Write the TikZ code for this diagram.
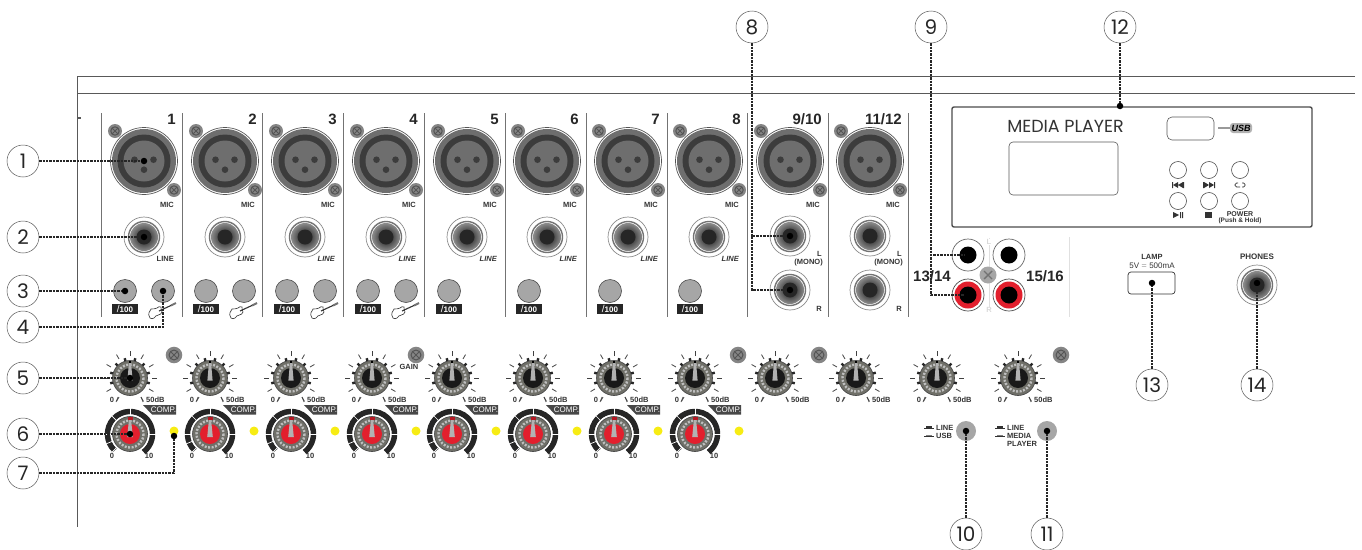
\documentclass[tikz,border=0pt]{standalone}
\usepackage{fontspec}
\setmainfont{Liberation Sans}
\newfontfamily\calloutfont{Poppins}
\usepackage{tikz}
\definecolor{panelgray}{HTML}{555555}
\definecolor{xlrgray}{HTML}{6E6E6E}
\definecolor{xlrdark}{HTML}{3C3C3C}
\definecolor{btngray}{HTML}{A6A6A6}
\definecolor{knobgray}{HTML}{6F6F68}
\definecolor{ledyellow}{HTML}{F7EC13}
\definecolor{rcared}{HTML}{E21F2D}
\tikzset{
  callout/.style={circle,draw=black!65,line width=0.5pt,fill=white,minimum size=32pt,inner sep=0pt,font=\calloutfont\fontsize{20}{20}\selectfont,text=black!85},
  tip/.style={circle,fill=black,minimum size=6.5pt,inner sep=0pt},
  leader/.style={line width=1.2pt,dash pattern=on 2.4pt off 1pt,black!85},
  lab/.style={font=\bfseries\fontsize{7.5}{7.5}\selectfont,inner sep=0pt,text=black!80},
  chnum/.style={font=\bfseries\fontsize{15}{15}\selectfont,inner sep=0pt,text=black!85},
  sep/.style={line width=0.9pt,black!55},
  screw/.pic={
    \fill[btngray!80!black] (0,0) circle (7);
    \draw[panelgray,line width=1pt] (0,0) circle (4.2);
    \draw[panelgray,line width=0.8pt] (-3,-3) -- (3,3) (-3,3) -- (3,-3);
  },
  xlr/.pic={
    \fill[white] (0,0) circle (33.5);
    \draw[panelgray,line width=0.7pt] (0,0) circle (33.5);
    \fill[xlrgray] (0,0) circle (32);
    \fill[xlrdark] (0,0) circle (26.5);
    \fill[xlrgray] (0,0) circle (20.5);
    \fill[xlrdark] (-9.5,-1.3) circle (3.3) (9.5,-1.3) circle (3.3) (0,8.7) circle (3.3);
    \pic at (-29,-30) {screw};
    \pic at (30,29) {screw};
  },
  jack/.pic={
    \fill[white] (0,0) circle (20);
    \draw[black!45,line width=0.7pt] (0,0) circle (20);
    \draw[black!55,line width=1.4pt] (0,0) circle (15.5);
    \shade[inner color=black!95,outer color=black!45] (0,0) circle (14);
    \fill[black!85] (0,0) circle (7.5);
  },
  knobface/.pic={
    \fill[knobgray] (0,0) circle (17.5);
    \draw[black!25,line width=2.4pt,dash pattern=on 2pt off 1.5pt] (0,0) circle (13.5);
    \draw[black!75,line width=0.6pt] (0,0) circle (17.5);
  },
  gain/.pic={
    \foreach \a in {-240,-210,...,60} {\draw[black!75,line width=0.8pt] (\a:22) -- (\a:27);}
    \foreach \a in {-195,-165,-135,-105,-75,-45,-15,15} {\draw[black!85,line width=2.4pt] (\a:17) -- (\a:20.5);}
    \pic {knobface};
    \fill[black!90] (0,0) circle (10);
    \fill[black!30] (-1.1,-15) -- (1.1,-15) -- (2.6,2.5) -- (-2.6,2.5) -- cycle;
    \fill[black] (-1.3,-17.5) rectangle (1.3,-15);
  },
  comp/.pic={
    \draw[black!85,line width=5.5pt] (133:22.5) arc[start angle=133,end angle=413,radius=22.5];
    \foreach \a in {-90,0,180,-135,157.5,135,112.5} {\draw[white,line width=0.7pt] (\a:19) -- (\a:26);}
    \fill[white] (0,0) circle (19.3);
    \pic {knobface};
    \fill[rcared] (0,0) circle (10);
    \fill[rcared!80!black] (-2.5,-17) rectangle (2.5,-14);
    \fill[black!30] (-1.1,-14) -- (1.1,-14) -- (2.8,3) -- (-2.8,3) -- cycle;
  },
  guitar/.pic={
    \draw[black!80,fill=white,line width=0.6pt] (-13,8) .. controls (-16,3) and (-13,2) .. (-12,-1) .. controls (-10,-2) and (-8,0) .. (-6,-2) .. controls (-5,-4) and (-3,-3) .. (-2,-3) .. controls (-1,-1) and (-3,0) .. (-1,2) .. controls (-2,6) and (-7,4) .. (-9,8) .. controls (-10,9) and (-12,9) .. (-13,8) -- cycle;
    \draw[black!80,line width=1.1pt] (-4,1) -- (9,-5);
    \draw[black!55,line width=2pt] (8,-4.5) -- (13,-7);
  },
  ratiobox/.style={fill=black!85,text=white,minimum width=26pt,minimum height=10.5pt,inner sep=0pt,font=\bfseries\fontsize{8}{8}\selectfont},
  mpbtn/.style={circle,draw=black!70,line width=0.6pt,minimum size=17pt,inner sep=0pt},
  swicon/.pic={
    \fill[black!80] (-5,0.8) rectangle (5,1.8);
    \fill[black!80] (-3,-1) rectangle (3,0.8);
  },
  swiconb/.pic={
    \fill[black!80] (-5,0.8) rectangle (5,1.8);
    \fill[black!50] (-3,0) rectangle (3,0.8);
  },
}
\begin{document}
\begin{tikzpicture}[x=1pt,y=-1pt]
  \useasboundingbox (0,0) rectangle (1362,549);
  % panel frame
  \draw[line width=0.9pt,black!65] (1355,76) -- (77,76) -- (77,527);
  \draw[line width=0.9pt,black!65] (77,93) -- (1355,93);
  \draw[line width=1.2pt,black!65] (77,118) -- (81,118);
  % channel strips
  \foreach \x in {101,182,262,343,424,505,586,667,747,828,908} {\draw[sep] (\x,113) -- (\x,317);}
  \draw[black!12,line width=0.8pt] (1069,237) -- (1069,317);
  \foreach \n/\x/\t in {1/144/1,2/225/2,3/305/3,4/386/4,5/467/5,6/547/6,7/628/7,8/709/8,9/790/9\slash 10,10/870/11\slash 12} {
    \pic at (\x,161) {xlr};
    \node[chnum,anchor=east] at (\x+32,119) {\t};
    \node[lab,anchor=east] at (\x+30,205) {MIC};
  }
  \foreach \x in {144,225,305,386,467,547,628,709} {\pic at (\x,237) {jack};}
  \node[lab,anchor=east] at (174,259) {LINE};
  \foreach \x in {225,305,386,467,547,628,709} {\node[lab,anchor=east,font=\bfseries\itshape\fontsize{7.5}{7.5}\selectfont] at (\x+30,259) {LINE};}
  \foreach \x in {790,870} {
    \pic at (\x,236) {jack};
    \pic at (\x,290) {jack};
    \node[lab,anchor=east] at (\x+32,254) {L};
    \node[lab,anchor=east] at (\x+33,263) {(MONO)};
    \node[lab,anchor=east] at (\x+32,309) {R};
  }
  % input buttons
  \foreach \x in {125,206,287,368,449,529,610,690} {
    \draw[black!70,fill=btngray,line width=0.6pt] (\x,291) circle (11.5);
    \node[ratiobox] at (\x,309) {{\mdseries\fontsize{10}{10}\selectfont /}100};
  }
  \foreach \x in {163,244,325,406} {
    \draw[black!70,fill=btngray,line width=0.6pt] (\x,291) circle (11.5);
    \pic at (\x,310) {guitar};
  }
  % gain knobs
  \foreach \x in {130,210,291,372,452,533,614,695,775,856,937,1018} {
    \pic at (\x,378) {gain};
    \node[lab] at (\x-18,399.5) {0};
    \draw[black!75,line width=0.6pt] (\x-14,402) -- (\x-12,397);
    \draw[black!75,line width=0.6pt] (\x+11,397) -- (\x+13,402);
    \node[lab,anchor=west] at (\x+16,399.5) {50dB};
  }
  \foreach \x in {174,416,738,819,1061} {\pic[scale=1.18] at (\x,355) {screw};}
  \node[lab] at (409,367) {GAIN};
  % comp knobs
  \foreach \x in {130,210,291,372,452,533,614,695} {
    \pic at (\x,434) {comp};
    \fill[black!72] (\x+13,405) -- (\x+46,405) -- (\x+46,414.5) -- (\x+22,414.5) -- cycle;
    \node[inner sep=0pt,text=white,font=\fontsize{8}{8}\selectfont] at (\x+33.5,409.7) {COMP.};
    \node[lab] at (\x-18,456) {0};
    \node[lab] at (\x+19,456) {10};
    \fill[ledyellow] (\x+44,431) circle (4.5);
  }
  % media player
  \draw[line width=1.4pt,black!70,rounded corners=2pt] (952,107) rectangle (1312,227);
  \node[inner sep=0pt,font=\calloutfont\fontsize{17.5}{17.5}\selectfont,text=black!80] at (1065.5,126) {MEDIA PLAYER};
  \draw[black!65,line width=0.6pt,rounded corners=4pt] (1009,142) rectangle (1118,195);
  \draw[black!65,line width=0.6pt,rounded corners=5pt] (1167,117) rectangle (1214,140);
  \draw[black!40,line width=2pt] (1218,128) -- (1231,128);
  \fill[black!30,rounded corners=3pt] (1230,123) rectangle (1252,133);
  \node[inner sep=0pt,font=\bfseries\itshape\fontsize{9}{9}\selectfont] at (1241,128) {USB};
  \foreach \x/\y in {1178/170,1209/170,1240/170,1178/201,1209/201,1240/201} {\node[mpbtn] at (\x,\y) {};}
  % button symbols
  \fill[black!80] (1172,182) rectangle (1173,188) (1183,182) rectangle (1184,188);
  \fill[black!80] (1173,185) -- (1178,182) -- (1178,188) -- cycle (1178,185) -- (1183,182) -- (1183,188) -- cycle;
  \fill[black!80] (1203,182) rectangle (1204,188) (1214,182) rectangle (1215,188);
  \fill[black!80] (1214,185) -- (1209,182) -- (1209,188) -- cycle (1209,185) -- (1204,182) -- (1204,188) -- cycle;
  \draw[black!80,line width=0.7pt,rounded corners=1.5pt] (1238,183) -- (1235,183) -- (1235,187) -- (1240,187) (1242,183) -- (1245,183) -- (1245,187) -- (1242,187);
  \fill[black!80] (1173,212) -- (1179,215) -- (1173,218) -- cycle (1180,212) rectangle (1181,218) (1182,212) rectangle (1183,218);
  \fill[black!80] (1205,212) rectangle (1212,218);
  \node[lab,font=\bfseries\fontsize{7}{7}\selectfont] at (1240,214.5) {POWER};
  \node[lab,font=\bfseries\fontsize{6.5}{6.5}\selectfont] at (1240,221) {(Push \& Hold)};
  % rca block
  \draw[black!12,line width=0.8pt] (989,238) -- (989,310);
  \node[lab,text=black!15,fill=white] at (989,242) {L};
  \node[lab,text=black!15,fill=white] at (989,310) {R};
  \foreach \x in {968,1009} {
    \draw[black!60,fill=white,line width=0.7pt] (\x,255) circle (16);
    \fill[black] (\x,255) circle (8.5);
    \draw[black!70,fill=white,line width=0.7pt] (\x,295) circle (16);
    \fill[rcared] (\x,295) circle (13.5);
    \fill[black] (\x,295) circle (8.5);
  }
  \fill[btngray] (988,275) circle (8.5);
  \draw[black!55,line width=1.4pt] (984,271) -- (992,279) (984,279) -- (992,271);
  \node[chnum] at (932,276) {13/14};
  \node[chnum] at (1045,276) {15/16};
  % lamp and phones
  \node[lab] at (1152,257) {LAMP};
  \node[lab,font=\fontsize{8}{8}\selectfont] at (1152,266) {5V \raisebox{1pt}{$\scriptstyle=$} 500mA};
  \draw[black!80,line width=0.7pt,rounded corners=3pt] (1128,272) rectangle (1175,294);
  \node[lab,font=\bfseries\fontsize{8}{8}\selectfont] at (1257,257) {PHONES};
  \pic at (1257,285) {jack};
  % switches
  \fill[btngray] (966,431) circle (10) (1047,431) circle (10);
  \pic at (929,427) {swicon};
  \pic at (929,435) {swiconb};
  \pic at (1000,427) {swicon};
  \pic at (1000,435) {swiconb};
  \node[lab,anchor=west] at (936,427.5) {LINE};
  \node[lab,anchor=west] at (936,435.5) {USB};
  \node[lab,anchor=west] at (1007,427.5) {LINE};
  \node[lab,anchor=west] at (1007,435.5) {MEDIA};
  \node[lab,anchor=west] at (1007,443.5) {PLAYER};
  % callouts
  \foreach \n/\x/\y in {1/23/161,2/23/237,3/23/291,4/23/327,5/23/378,6/23/434,7/23/473,8/752/27,9/931/27,12/1120/27,10/966/534,11/1047/534,13/1152/385,14/1257/385} {\node[callout] (c\n) at (\x,\y) {\n};}
  \node[tip] (p1) at (144,161) {};
  \node[tip] (p2) at (144,237) {};
  \node[tip] (p3) at (125,291) {};
  \node[tip] (p4) at (163,291) {};
  \node[tip] (p5) at (130,378) {};
  \node[tip] (p6) at (130,434) {};
  \node[tip] (p7) at (174,436) {};
  \node[tip] (p8a) at (790,236) {};
  \node[tip] (p8b) at (790,290) {};
  \node[tip] (p9a) at (968,255) {};
  \node[tip] (p9b) at (968,295) {};
  \node[tip] (p10) at (966,431) {};
  \node[tip] (p11) at (1047,431) {};
  \node[tip] (p12) at (1120,106) {};
  \node[tip] (p13) at (1152,283) {};
  \node[tip] (p14) at (1257,283) {};
  \draw[leader] (c1) -- (p1);
  \draw[leader] (c2) -- (p2);
  \draw[leader] (c3) -- (p3);
  \draw[leader] (c4) -| (p4);
  \draw[leader] (c5) -- (p5);
  \draw[leader] (c6) -- (p6);
  \draw[leader] (c7) -| (p7);
  \draw[leader] (c8) |- (p8a);
  \draw[leader] (c8) |- (p8b);
  \draw[leader] (c9) |- (p9a);
  \draw[leader] (c9) |- (p9b);
  \draw[leader] (c10) -- (p10);
  \draw[leader] (c11) -- (p11);
  \draw[leader] (c12) -- (p12);
  \draw[leader] (c13) -- (p13);
  \draw[leader] (c14) -- (p14);
\end{tikzpicture}
\end{document}
